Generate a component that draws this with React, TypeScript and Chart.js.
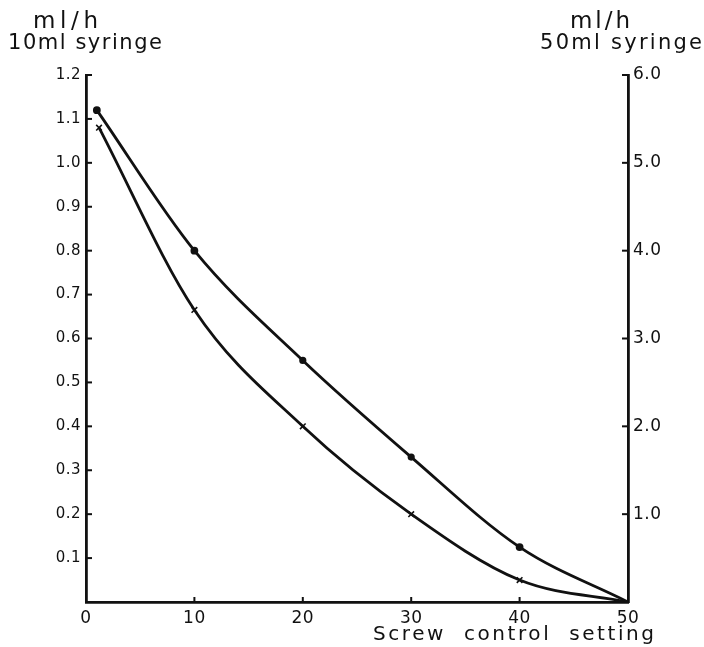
import React, { useEffect, useRef } from "react";
import { Chart, registerables } from "chart.js";

Chart.register(...registerables);

// Screw control setting (x) for the two measured series
const dotSettings = [1, 10, 20, 30, 40, 50];
const dotRates = [1.12, 0.8, 0.55, 0.33, 0.125, 0];
const crossSettings = [1.2, 10, 20, 30, 40, 50];
const crossRates = [1.08, 0.665, 0.4, 0.2, 0.05, 0];

// Axis ranges / tick steps
const xTickStep = 10;
const leftMax = 1.2;
const leftStep = 0.1;
const rightMax = 6.0;
const rightStep = 1.0;

const leftTitle = ["ml/h", "10ml syringe"];
const rightTitle = ["ml/h", "50ml syringe"];
const xTitle = "Screw  control  setting";

const FONT = '"DejaVu Sans"';

function drawFit(ctx: CanvasRenderingContext2D, text: string, x0: number, x1: number, baseline: number, size: number) {
  ctx.save();
  ctx.font = `${size}px ${FONT}`;
  (ctx as any).letterSpacing = "0px";
  ctx.textAlign = "left";
  ctx.textBaseline = "alphabetic";
  ctx.fillStyle = "#111";
  const w = ctx.measureText(text).width;
  const target = x1 - x0;
  const n = text.length;
  const s = n > 1 ? (target - w) / (n - 1) : 0;
  if (s >= 0) {
    (ctx as any).letterSpacing = `${s}px`;
    ctx.fillText(text, x0, baseline);
  } else {
    ctx.translate(x0, baseline);
    ctx.scale(target / w, 1);
    ctx.fillText(text, 0, 0);
  }
  ctx.restore();
}

const paperPlugin = {
  id: "paper",
  beforeDraw(chart: any) {
    const ctx = chart.ctx as CanvasRenderingContext2D;
    ctx.save();
    ctx.fillStyle = "#fff";
    ctx.fillRect(0, 0, chart.width, chart.height);
    ctx.restore();
    (ctx as any).letterSpacing = "0.5px";
  },
  afterDraw(chart: any) {
    const ctx = chart.ctx as CanvasRenderingContext2D;
    const { x, y, y2 } = chart.scales;
    const area = chart.chartArea;
    ctx.save();
    ctx.strokeStyle = "#111";
    ctx.lineWidth = 2;
    // inward tick marks
    y.ticks.forEach((t: any) => {
      if (t.value <= 0) return;
      const py = y.getPixelForValue(t.value);
      ctx.beginPath();
      ctx.moveTo(area.left, py);
      ctx.lineTo(area.left + 6, py);
      ctx.stroke();
    });
    y2.ticks.forEach((t: any) => {
      if (t.value <= 0) return;
      const py = y2.getPixelForValue(t.value);
      ctx.beginPath();
      ctx.moveTo(area.right, py);
      ctx.lineTo(area.right - 6, py);
      ctx.stroke();
    });
    x.ticks.forEach((t: any) => {
      if (t.value <= 0 || t.value >= 50) return;
      const px = x.getPixelForValue(t.value);
      ctx.beginPath();
      ctx.moveTo(px, area.bottom);
      ctx.lineTo(px, area.bottom - 5);
      ctx.stroke();
    });
    ctx.restore();
    drawFit(ctx, leftTitle[0], 33, 98, 28, 23);
    drawFit(ctx, leftTitle[1], 8, 162, 49, 21);
    drawFit(ctx, rightTitle[0], 570, 630, 28, 23);
    drawFit(ctx, rightTitle[1], 540, 702, 49, 21);
    drawFit(ctx, xTitle, 373, 654, 640, 20);
  },
};

export default function App() {
  const ref = useRef<HTMLCanvasElement | null>(null);
  useEffect(() => {
    if (!ref.current) return;
    const chart = new Chart(ref.current, {
      type: "line",
      data: {
        datasets: [
          {
            label: "dots",
            data: dotSettings.map((s, i) => ({ x: s, y: dotRates[i] })),
            yAxisID: "y",
            borderColor: "#111",
            backgroundColor: "#111",
            borderWidth: 2.8,
            pointRadius: [2.5, 2.5, 2.2, 2.2, 2.5, 0],
            pointStyle: "circle",
            cubicInterpolationMode: "monotone",
            fill: false,
          },
          {
            label: "crosses",
            data: crossSettings.map((s, i) => ({ x: s, y: crossRates[i] })),
            yAxisID: "y",
            borderColor: "#111",
            backgroundColor: "#111",
            borderWidth: 2.8,
            pointRadius: [4, 4, 4, 4, 4, 0],
            pointBorderWidth: 1.6,
            pointStyle: "crossRot",
            cubicInterpolationMode: "monotone",
            fill: false,
          },
        ],
      },
      options: {
        animation: false,
        responsive: false,
        events: [],
        layout: { padding: { top: 75, left: 0, right: 0, bottom: 0 } },
        plugins: { legend: { display: false }, tooltip: { enabled: false } },
        scales: {
          x: {
            type: "linear",
            min: 0,
            max: 50,
            grid: { display: false, drawTicks: false },
            border: { display: true, color: "#111", width: 2.8 },
            ticks: {
              stepSize: xTickStep,
              autoSkip: false,
              maxRotation: 0,
              padding: 6,
              color: "#111",
              font: { family: FONT, size: 17 },
              callback: (v: any) => String(v),
            },
            afterFit: (s: any) => {
              s.height = 45;
            },
          },
          y: {
            type: "linear",
            position: "left",
            min: 0,
            max: leftMax,
            grid: { display: false, drawTicks: false },
            border: { display: true, color: "#111", width: 2.8 },
            ticks: {
              stepSize: leftStep,
              padding: 5,
              color: "#111",
              font: { family: FONT, size: 15 },
              callback: (v: any) => (Number(v) <= 0 ? "" : Number(v).toFixed(1)),
            },
            afterFit: (s: any) => {
              s.width = 86;
            },
          },
          y2: {
            type: "linear",
            position: "right",
            min: 0,
            max: rightMax,
            grid: { display: false, drawTicks: false },
            border: { display: true, color: "#111", width: 2.8 },
            ticks: {
              stepSize: rightStep,
              padding: 5,
              color: "#111",
              font: { family: FONT, size: 17 },
              callback: (v: any) => (Number(v) <= 0 ? "" : Number(v).toFixed(1)),
            },
            afterFit: (s: any) => {
              s.width = 76;
            },
          },
        },
      },
      plugins: [paperPlugin],
    });
    return () => chart.destroy();
  }, []);
  return (
    <div style={{ position: "fixed", left: 0, top: 0, width: 704, height: 647, background: "#fff" }}>
      <canvas ref={ref} width={704} height={647} style={{ display: "block" }} />
    </div>
  );
}
